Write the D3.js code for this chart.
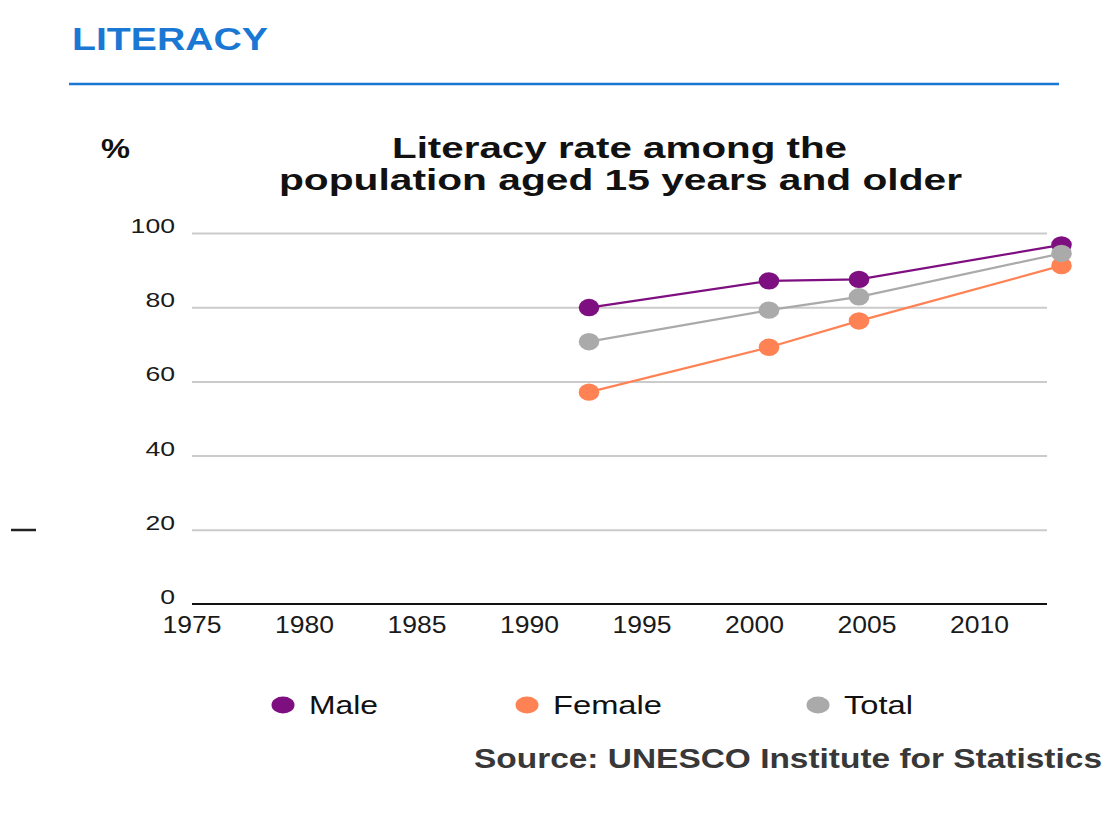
<!DOCTYPE html>
<html lang="en">
<head>
	<meta charset="UTF-8">
	<title>Literacy</title>
	<style type="text/css">
	body {
		margin: 0;
		background: #fff;
	}
	svg text {
		font-family: "Liberation Sans", Arial, sans-serif;
	}
	.grid line {
		stroke: #cbcbcb;
		stroke-width: 2;
	}
	.grid .domain {
		stroke: none;
	}
	</style>
</head>
<body>
</body>
<script src="https://cdn.jsdelivr.net/npm/d3@7"></script>
<script>
var years = [1993, 2001, 2005, 2014]
var male = [79.9, 87.1, 87.5, 96.8]
var female = [57.1, 69.2, 76.3, 91.2]
var total = [70.7, 79.2, 82.8, 94.5]

var seriesNames = ['Male', 'Female', 'Total']
var seriesColors = ['#7e0f80', '#ff8254', '#aaaaaa']
var yTicks = [0, 20, 40, 60, 80, 100]
var xTicks = [1975, 1980, 1985, 1990, 1995, 2000, 2005, 2010]

var series = [male, female, total].map(function (vals, i) {
	return {
		name: seriesNames[i],
		color: seriesColors[i],
		values: vals.map(function (v, j) { return {year: years[j], v: v} })
	}
})

var width = 1112, height = 835

var x = d3.scaleLinear()
	.domain([1975, 2013])
	.range([184, 1039])

var y = d3.scaleLinear()
	.domain([0, 100])
	.range([604, 233])

// axis labels sit ~8px right of the plotted years in the original
var axisShift = 8

var svg = d3.select('body').append('svg')
	.attr('width', width)
	.attr('height', height)

// header
svg.append('text')
	.attr('x', 72)
	.attr('y', 50)
	.attr('font-size', 31)
	.attr('font-weight', 'bold')
	.attr('fill', '#1a78d4')
	.attr('textLength', 196)
	.attr('lengthAdjust', 'spacingAndGlyphs')
	.text('LITERACY')

svg.append('line')
	.attr('x1', 69).attr('x2', 1059)
	.attr('y1', 84).attr('y2', 84)
	.attr('stroke', '#1a78d4')
	.attr('stroke-width', 2.5)

svg.append('text')
	.attr('x', 101)
	.attr('y', 158)
	.attr('font-size', 27)
	.attr('font-weight', 'bold')
	.attr('fill', '#111')
	.attr('textLength', 29)
	.attr('lengthAdjust', 'spacingAndGlyphs')
	.text('%')

svg.append('text')
	.attr('x', 392)
	.attr('y', 158)
	.attr('font-size', 29)
	.attr('font-weight', 'bold')
	.attr('fill', '#111')
	.attr('textLength', 455)
	.attr('lengthAdjust', 'spacingAndGlyphs')
	.text('Literacy rate among the')

svg.append('text')
	.attr('x', 279)
	.attr('y', 190)
	.attr('font-size', 29)
	.attr('font-weight', 'bold')
	.attr('fill', '#111')
	.attr('textLength', 683)
	.attr('lengthAdjust', 'spacingAndGlyphs')
	.text('population aged 15 years and older')

// stray dash on the left edge
svg.append('line')
	.attr('x1', 11).attr('x2', 36)
	.attr('y1', 530).attr('y2', 530)
	.attr('stroke', '#222')
	.attr('stroke-width', 2.5)

var axisG = svg.append('g')
	.attr('transform', 'translate(' + axisShift + ',0)')

// gridlines
axisG.append('g')
	.attr('class', 'grid')
	.attr('transform', 'translate(' + x(1975) + ',0)')
	.call(d3.axisLeft(y)
		.tickValues(yTicks.filter(function (t) { return t > 0 }))
		.tickSize(-(x(2013) - x(1975)))
		.tickFormat(''))

// baseline
axisG.append('line')
	.attr('x1', x(1975)).attr('x2', x(2013))
	.attr('y1', y(0)).attr('y2', y(0))
	.attr('stroke', '#111')
	.attr('stroke-width', 2.2)

// y labels
axisG.append('g').selectAll('text')
	.data(yTicks)
	.enter()
	.append('text')
	.attr('x', 175 - axisShift)
	.attr('y', function (d) { return y(d) })
	.attr('text-anchor', 'end')
	.attr('font-size', 21)
	.attr('fill', '#1a1a1a')
	.attr('textLength', function (d) { return String(d).length * 14.8 })
	.attr('lengthAdjust', 'spacingAndGlyphs')
	.text(function (d) { return d })

// x labels
axisG.append('g').selectAll('text')
	.data(xTicks)
	.enter()
	.append('text')
	.attr('x', function (d) { return x(d) })
	.attr('y', 633)
	.attr('text-anchor', 'middle')
	.attr('font-size', 24)
	.attr('fill', '#1a1a1a')
	.attr('textLength', 59)
	.attr('lengthAdjust', 'spacingAndGlyphs')
	.text(function (d) { return d })

// series
var line = d3.line()
	.x(function (d) { return x(d.year) })
	.y(function (d) { return y(d.v) })

series.forEach(function (s) {
	var g = svg.append('g')
	g.append('path')
		.datum(s.values)
		.attr('d', line)
		.attr('fill', 'none')
		.attr('stroke', s.color)
		.attr('stroke-width', 2.2)
	g.selectAll('ellipse')
		.data(s.values)
		.enter()
		.append('ellipse')
		.attr('cx', function (d) { return x(d.year) })
		.attr('cy', function (d) { return y(d.v) })
		.attr('rx', 10.3)
		.attr('ry', 8.7)
		.attr('fill', s.color)
})

// legend
var legendX = [283, 527, 818]
var legendW = [69, 109, 69]
var legend = svg.append('g').selectAll('.legend')
	.data(series)
	.enter()
	.append('g')
	.attr('class', 'legend')
	.attr('transform', function (d, i) { return 'translate(' + legendX[i] + ',705)' })

legend.append('ellipse')
	.attr('rx', 11.5)
	.attr('ry', 8.5)
	.attr('fill', function (d) { return d.color })

legend.append('text')
	.attr('x', 26)
	.attr('y', 8.5)
	.attr('font-size', 25)
	.attr('fill', '#111')
	.attr('textLength', function (d, i) { return legendW[i] })
	.attr('lengthAdjust', 'spacingAndGlyphs')
	.text(function (d) { return d.name })

svg.append('text')
	.attr('x', 474)
	.attr('y', 768)
	.attr('font-size', 28)
	.attr('font-weight', 'bold')
	.attr('fill', '#383838')
	.attr('textLength', 628)
	.attr('lengthAdjust', 'spacingAndGlyphs')
	.text('Source: UNESCO Institute for Statistics')
</script>
</html>
